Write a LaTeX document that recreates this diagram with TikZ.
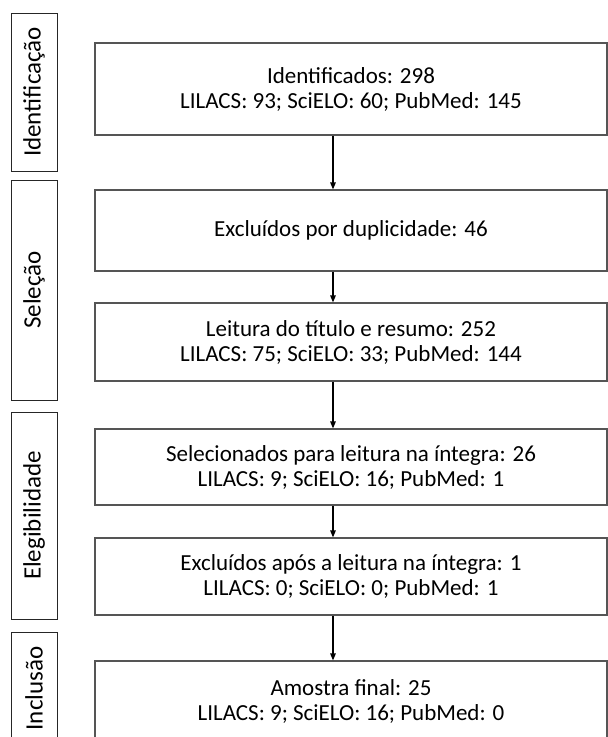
\documentclass[tikz,border=0pt]{standalone}
\usepackage{fontspec}
\setmainfont{Carlito}
\usetikzlibrary{arrows.meta}
\definecolor{boxgray}{RGB}{85,85,85}
\tikzset{
  stage/.style={rectangle, draw=black!85, line width=1pt, rotate=90,
                minimum height=46pt, inner sep=0pt,
                font=\fontsize{25}{27}\selectfont},
  stepbox/.style={rectangle, draw=boxgray, line width=1.2pt,
                  minimum width=512pt, inner sep=0pt, align=center,
                  font=\fontsize{23}{25}\selectfont},
  flow/.style={-{Triangle[length=7pt,width=5.5pt]}, line width=1.3pt, black},
}
\begin{document}
\begin{tikzpicture}[x=1pt, y=-1pt]
  \useasboundingbox (0,0) rectangle (608,737);
  % phases
  \node[stage, minimum width=158pt] (sId)  at (34,92)    {Identificação};
  \node[stage, minimum width=220pt] (sSel) at (34,290)   {Seleção};
  \node[stage, minimum width=207pt] (sEle) at (34,515.5) {Elegibilidade};
  \node[stage, minimum width=113pt] (sInc) at (34,688.5) {Inclusão};
  % steps
  \node[stepbox, minimum height=92pt] (ident)  at (351,89)
    {Identificados: 298\\LILACS: 93; SciELO: 60; PubMed: 145};
  \node[stepbox, minimum height=81pt] (dupl)   at (351,230.5)
    {Excluídos por duplicidade: 46};
  \node[stepbox, minimum height=78pt] (titres) at (351,342)
    {Leitura do título e resumo: 252\\LILACS: 75; SciELO: 33; PubMed: 144};
  \node[stepbox, minimum height=76pt] (integ)  at (351,467)
    {Selecionados para leitura na íntegra: 26\\LILACS: 9; SciELO: 16; PubMed: 1};
  \node[stepbox, minimum height=77pt] (excl)   at (351,576.5)
    {Excluídos após a leitura na íntegra: 1\\LILACS: 0; SciELO: 0; PubMed: 1};
  \node[stepbox, minimum height=81pt] (final)  at (351,701.5)
    {Amostra final: 25\\LILACS: 9; SciELO: 16; PubMed: 0};
  \coordinate (ax) at (333,0);
  \foreach \a/\b in {ident/dupl, dupl/titres, titres/integ, integ/excl, excl/final}
    \draw[flow] (ax |- \a.south) -- (ax |- \b.north);
\end{tikzpicture}
\end{document}
